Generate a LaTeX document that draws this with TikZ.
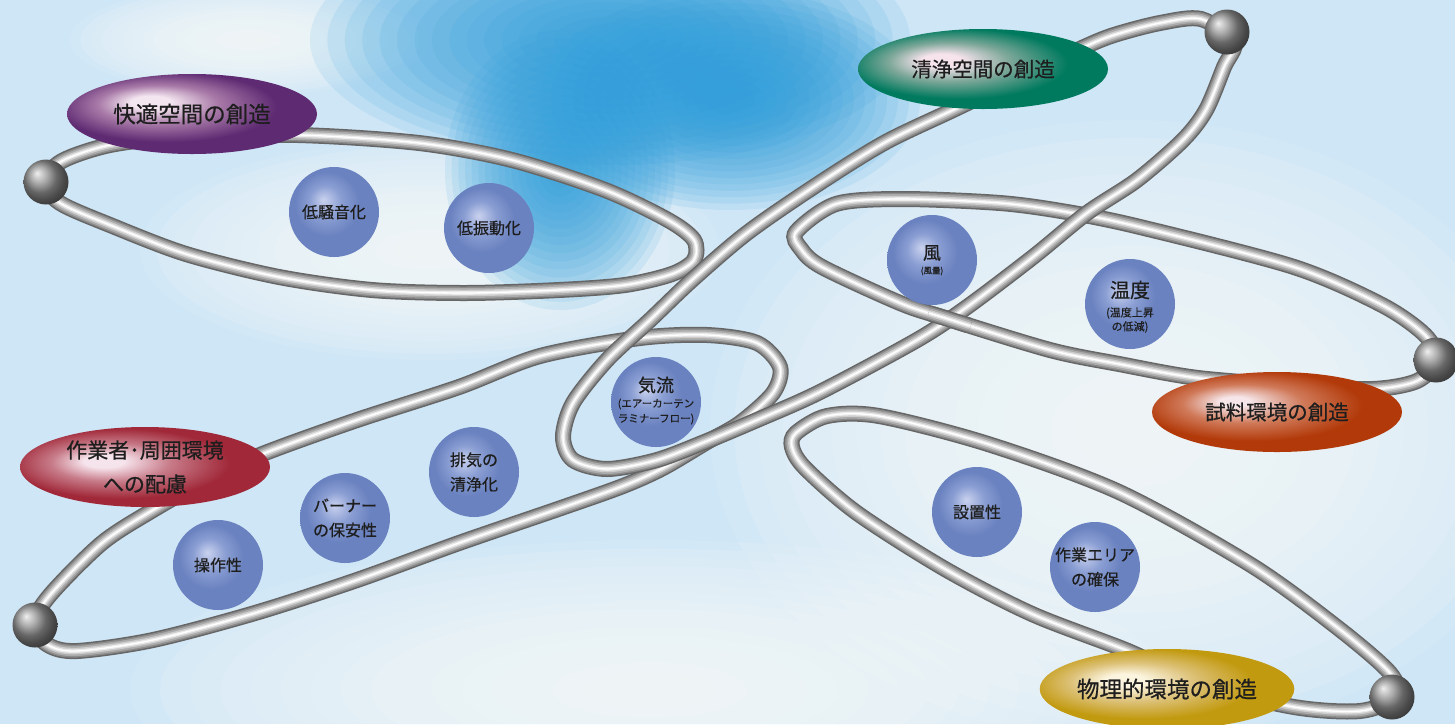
\documentclass[tikz,border=0pt]{standalone}
\usepackage{fontspec}
\newfontfamily\jp{Noto Sans CJK JP}[FakeBold=0.6]
\usetikzlibrary{shapes.geometric}

\definecolor{bgbase}{HTML}{CFE6F6}
\definecolor{bgwhite}{HTML}{F8FCFF}
\definecolor{skyA}{HTML}{2F9FDB}
\definecolor{bubhi}{HTML}{C9D1EE}
\definecolor{bubmid}{HTML}{8A9ED3}
\definecolor{bubmain}{HTML}{6A82C0}
\definecolor{purhi}{HTML}{F4E6F0}
\definecolor{purmid}{HTML}{A87AA8}
\definecolor{purmain}{HTML}{5E2A72}
\definecolor{grnhi}{HTML}{F6E3EC}
\definecolor{grnmid}{HTML}{7FA89A}
\definecolor{grnmain}{HTML}{007A5E}
\definecolor{orghi}{HTML}{F6E6EA}
\definecolor{orgmid}{HTML}{D07A5A}
\definecolor{orgmain}{HTML}{B23A0A}
\definecolor{redhi}{HTML}{F6E4EC}
\definecolor{redmid}{HTML}{C77A88}
\definecolor{redmain}{HTML}{A02838}
\definecolor{gldhi}{HTML}{FBF4DE}
\definecolor{gldmid}{HTML}{DDC27A}
\definecolor{gldmain}{HTML}{C29A10}
\definecolor{tubeA}{HTML}{666666}
\definecolor{tubeB}{HTML}{8A8A8A}
\definecolor{tubeC}{HTML}{ABABAB}
\definecolor{tubeD}{HTML}{CDCDCD}
\definecolor{tubeE}{HTML}{EBEBEB}
\definecolor{txt}{HTML}{1E1E1E}

\pgfdeclareradialshading{bubshade}{\pgfpoint{-6bp}{7bp}}{color(0bp)=(bubhi); color(9bp)=(bubmid); color(18bp)=(bubmain); color(50bp)=(bubmain)}
\pgfdeclareradialshading{shpur}{\pgfpoint{-9bp}{8bp}}{color(0bp)=(purhi); color(4bp)=(purhi); color(12bp)=(purmid); color(22bp)=(purmain); color(50bp)=(purmain)}
\pgfdeclareradialshading{shgrn}{\pgfpoint{-9bp}{6bp}}{color(0bp)=(grnhi); color(4bp)=(grnhi); color(12bp)=(grnmid); color(22bp)=(grnmain); color(50bp)=(grnmain)}
\pgfdeclareradialshading{shorg}{\pgfpoint{-9bp}{7bp}}{color(0bp)=(orghi); color(3bp)=(orghi); color(12bp)=(orgmid); color(22bp)=(orgmain); color(50bp)=(orgmain)}
\pgfdeclareradialshading{shred}{\pgfpoint{-9bp}{4bp}}{color(0bp)=(redhi); color(4bp)=(redhi); color(12bp)=(redmid); color(22bp)=(redmain); color(50bp)=(redmain)}
\pgfdeclareradialshading{shgld}{\pgfpoint{-9bp}{6bp}}{color(0bp)=(gldhi); color(4bp)=(gldhi); color(12bp)=(gldmid); color(22bp)=(gldmain); color(50bp)=(gldmain)}

\newcommand\bgblob[5]{%
  \foreach \k in {0,...,15}{%
    \pgfmathsetmacro\fr{1-\k*0.058}%
    \fill[#5, opacity=0.11] (#1,#2) ellipse [x radius=\fr*#3pt, y radius=\fr*#4pt];}}

\tikzset{
  tube/.style={line join=round,
    preaction={draw=tubeA, line width=16pt},
    preaction={draw=tubeB, line width=13pt},
    preaction={draw=tubeC, line width=10pt},
    preaction={draw=tubeD, line width=6.5pt},
    draw=tubeE, line width=3.6pt,
    postaction={draw=white, line width=1.3pt}},
  lbl/.style={ellipse, minimum width=250pt, minimum height=80pt, inner sep=0pt,
    shade, font=\jp\fontsize{20.5}{33}\selectfont, text=txt, align=center},
  bub/.style={circle, minimum size=90pt, inner sep=0pt, shade, shading=bubshade,
    font=\jp\fontsize{16}{24.5}\selectfont, text=txt, align=center},
  subtxt/.style={inner sep=0pt, text=txt, font=\jp\fontsize{#1}{#1}\selectfont},
  ballst/.style={circle, minimum size=45pt, inner sep=0pt, ball color=gray!85}
}

\begin{document}
\begin{tikzpicture}[x=1pt,y=-1pt]
\useasboundingbox (0,0) rectangle (1455,724);
\clip (0,0) rectangle (1455,724);

% background
\fill[bgbase] (0,0) rectangle (1455,724);
\bgblob{1130}{430}{420}{310}{bgwhite}
\bgblob{650}{690}{520}{150}{bgwhite}
\bgblob{430}{250}{290}{110}{bgwhite}
\bgblob{250}{40}{180}{55}{bgwhite}
\bgblob{610}{40}{300}{125}{skyA}
\bgblob{560}{170}{115}{140}{skyA}
\bgblob{730}{100}{190}{110}{skyA}

% rings
\draw[tube] plot[smooth cycle] coordinates {(44,182) (62,161) (110,145) (180,137) (298,135) (419,143) (512,160) (605,190) (668,220) (694,240) (694,260) (672,274) (625,285) (559,290) (465,293) (372,290) (279,277) (186,254) (110,225) (60,203)};
\draw[tube] plot[smooth cycle] coordinates {(33,625) (50,595) (102,543) (153,510) (210,478) (265,453) (357,420) (459,387) (540,356) (640,338) (707,335) (757,343) (780,367) (773,393) (740,423) (707,442) (663,468) (623,486) (561,508) (459,543) (357,580) (255,613) (153,640) (77,651) (48,645)};
\draw[tube] plot[smooth cycle] coordinates {(796,232) (836,204) (901,199) (1000,203) (1067,212) (1140,227) (1294,267) (1382,305) (1425,335) (1437,360) (1417,381) (1373,389) (1300,386) (1198,378) (1119,364) (1050,350) (945,318) (900,303) (822,267) (801,249)};
\draw[tube] plot[smooth cycle] coordinates {(796,433) (827,416) (879,416) (988,444) (1119,492) (1251,565) (1338,628) (1390,673) (1396,697) (1360,711) (1294,707) (1200,684) (1128,651) (1032,614) (945,569) (857,513) (805,468) (792,447)};
\draw[tube] plot[smooth cycle] coordinates {(1234,42) (1201,19) (1160,23) (1114,35) (1082,48) (1020,78) (953,110) (884,143) (815,186) (747,233) (692,280) (650,320) (607,360) (573,403) (563,437) (573,460) (607,469) (657,460) (707,441) (757,420) (820,392) (917,340) (967,307) (1033,257) (1087,213) (1137,180) (1183,140) (1206,110) (1224,67)};
% interlocking crossing: ring C passes over ring B here
\begin{scope}
\clip (950,318) circle (22pt);
\draw[tube] plot[smooth cycle] coordinates {(796,232) (836,204) (901,199) (1000,203) (1067,212) (1140,227) (1294,267) (1382,305) (1425,335) (1437,360) (1417,381) (1373,389) (1300,386) (1198,378) (1119,364) (1050,350) (945,318) (900,303) (822,267) (801,249)};
\end{scope}

% balls
\node[ballst] (ballA) at (46,182) {};
\node[ballst] (ballB) at (1227,32) {};
\node[ballst] (ballC) at (1436,360) {};
\node[ballst] (ballD) at (1392,697) {};
\node[ballst] (ballE) at (35,625) {};

% labels
\node[lbl, shading=shpur, font=\jp\fontsize{22.5}{33}\selectfont] (kaiteki) at (192,114) {快適空間の創造};
\node[lbl, shading=shgrn] (seijo) at (983,69) {清浄空間の創造};
\node[lbl, shading=shorg] (shiryo) at (1277,412) {試料環境の創造};
\node[lbl, shading=shred, font=\jp\fontsize{21}{34}\selectfont] (sagyo) at (145,467) {作業者･周囲環境\\への配慮};
\node[lbl, shading=shgld, font=\jp\fontsize{22.5}{33}\selectfont] (butsuri) at (1167,689) {物理的環境の創造};

% bubbles
\node[bub] (teisoon) at (334,212) {低騒音化};
\node[bub] (teishin) at (489,228) {低振動化};
\node[bub] (kaze) at (932,260) {};
\node[subtxt=18] (kazet) at (932,253) {風};
\node[subtxt=8.5] (kazes) at (932,271) {(風量)};
\node[bub] (ondo) at (1130,304) {};
\node[subtxt=20] (ondot) at (1130,290) {温度};
\node[subtxt=11] (ondos1) at (1130,313) {(温度上昇};
\node[subtxt=11] (ondos2) at (1130,327) {の低減)};
\node[bub] (kiryu) at (656,402) {};
\node[subtxt=18] (kiryut) at (656,385) {気流};
\node[subtxt=10.5] (kiryus1) at (656,404) {(エアーカーテン};
\node[subtxt=10.5] (kiryus2) at (656,419) {ラミナーフロー)};
\node[bub] (haiki) at (474,472) {排気の\\清浄化};
\node[bub] (burner) at (345,518) {バーナー\\の保安性};
\node[bub] (sosa) at (218,565) {操作性};
\node[bub] (setchi) at (977,512) {設置性};
\node[bub] (area) at (1095,567) {作業エリア\\の確保};
\end{tikzpicture}
\end{document}
